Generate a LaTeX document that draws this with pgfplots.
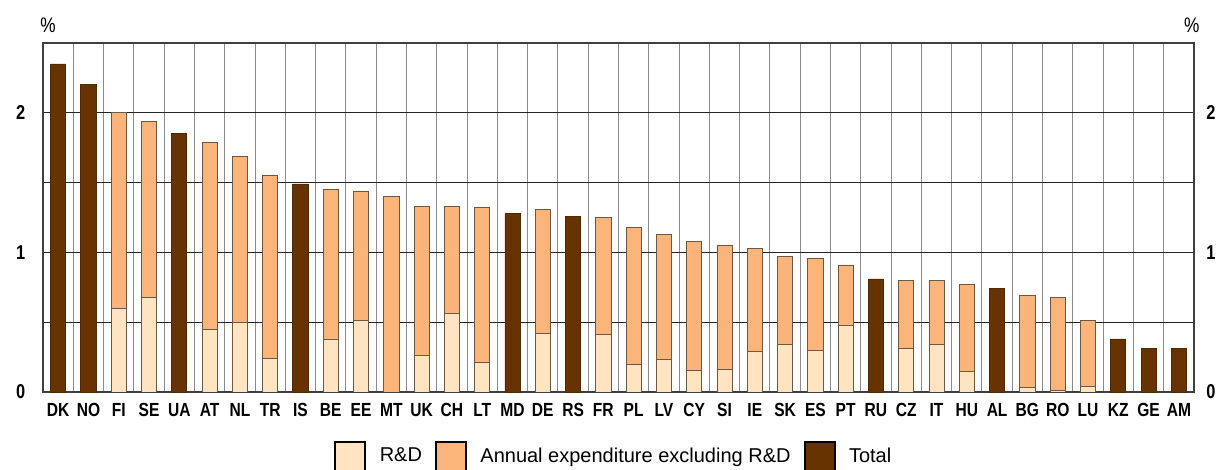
\documentclass[border=0pt]{standalone}
\usepackage{pgfplots}
\pgfplotsset{compat=1.18}
\usepackage{fontspec}
\setmainfont{Liberation Sans}
\newfontfamily\narrowfont[FakeStretch=0.82]{Liberation Sans}
\definecolor{rdcol}{HTML}{FFE4C2}
\definecolor{excol}{HTML}{FBB479}
\definecolor{totcol}{HTML}{663300}
\definecolor{edgecol}{HTML}{6E5844}
\newcommand{\tickfont}{\narrowfont\bfseries\fontsize{9.5}{11}\selectfont}

\begin{document}
\begin{tikzpicture}
\useasboundingbox (-21.5pt,-39pt) rectangle (587.5pt,196pt);
\pgfplotsset{
  common/.style={
    width=575.5pt, height=174.5pt, scale only axis,
    at={(0,0)}, anchor=south west,
    xmin=-0.5, xmax=37.5, ymin=0, ymax=2.5,
  }
}
% main axis: grid, frame, labels, totals
\begin{axis}[common, clip=false,
  ybar, bar width=0.5, bar shift=0pt,
  xtick={0,...,37},
  xticklabels={DK,NO,FI,SE,UA,AT,NL,TR,IS,BE,EE,MT,UK,CH,LT,MD,DE,RS,FR,PL,LV,CY,SI,IE,SK,ES,PT,RU,CZ,IT,HU,AL,BG,RO,LU,KZ,GE,AM},
  minor xtick={0.5,1.5,...,36.5},
  xminorgrids, xmajorgrids=false,
  x grid style={draw=black!45, line width=0.5pt},
  ytick={0,1,2}, minor ytick={0.5,1.5},
  ymajorgrids, yminorgrids,
  y grid style={draw=black!85, line width=0.5pt},
  major tick length=0pt, minor tick length=0pt,
  tick style={draw=none},
  axis line style={draw=black!75, line width=0.6pt},
  xticklabel style={font=\tickfont, yshift=-2.3pt},
  yticklabel style={font=\tickfont\fontsize{10}{11}\selectfont, xshift=-5.3pt},
  /pgf/number format/assume math mode=true,
]
\addplot[fill=totcol, draw=totcol!80!black, line width=0.4pt] coordinates {
  (0,2.35) (1,2.20) (4,1.85) (8,1.49) (15,1.28) (17,1.26)
  (27,0.81) (31,0.74) (35,0.38) (36,0.31) (37,0.31)
};
\node[font=\narrowfont\fontsize{10.5}{11}\selectfont] at (rel axis cs:0.0043,1.0516) {\%};
\node[font=\narrowfont\fontsize{10.5}{11}\selectfont] at (rel axis cs:0.998,1.0516) {\%};
\end{axis}

% stacked R&D + annual expenditure excluding R&D
\begin{axis}[common, hide axis,
  ybar stacked, bar width=0.5,
]
\addplot[fill=rdcol, draw=edgecol, line width=0.4pt] coordinates {
  (2,0.60) (3,0.68) (5,0.45) (6,0.50) (7,0.24) (9,0.38) (10,0.51) (11,0.00)
  (12,0.26) (13,0.56) (14,0.21) (16,0.42) (18,0.41) (19,0.20) (20,0.23)
  (21,0.155) (22,0.16) (23,0.29) (24,0.34) (25,0.30) (26,0.48) (28,0.31)
  (29,0.34) (30,0.145) (32,0.035) (33,0.01) (34,0.04)
};
\addplot[fill=excol, draw=edgecol, line width=0.4pt] coordinates {
  (2,1.40) (3,1.26) (5,1.34) (6,1.19) (7,1.31) (9,1.07) (10,0.93) (11,1.40)
  (12,1.07) (13,0.77) (14,1.11) (16,0.89) (18,0.84) (19,0.98) (20,0.90)
  (21,0.925) (22,0.89) (23,0.74) (24,0.63) (25,0.66) (26,0.43) (28,0.49)
  (29,0.46) (30,0.625) (32,0.655) (33,0.67) (34,0.47)
};
\end{axis}

% right-hand labels and legend
\begin{axis}[common,
  axis x line=none, axis y line*=right,
  y axis line style={draw=none},
  ytick={0,1,2}, yticklabel pos=right,
  major tick length=0pt, tick style={draw=none},
  yticklabel style={font=\tickfont\fontsize{10}{11}\selectfont, xshift=2.6pt},
  /pgf/number format/assume math mode=true,
  legend columns=3,
  legend style={at={(rel axis cs:0.2476,-0.185)}, anchor=west, draw=none, fill=none,
    font=\fontsize{10}{12}\selectfont,
    /tikz/every even column/.append style={column sep=4.5pt}},
  legend image code/.code={\draw[#1,draw=black,line width=1pt] (0pt,-7.5pt) rectangle (15pt,7.5pt);
    \path (20pt,0pt);},
]
\addlegendimage{fill=rdcol}
\addlegendentry{R\&D}
\addlegendimage{fill=excol}
\addlegendentry{Annual expenditure excluding R\&D}
\addlegendimage{fill=totcol}
\addlegendentry{Total}
\end{axis}
\end{tikzpicture}
\end{document}
